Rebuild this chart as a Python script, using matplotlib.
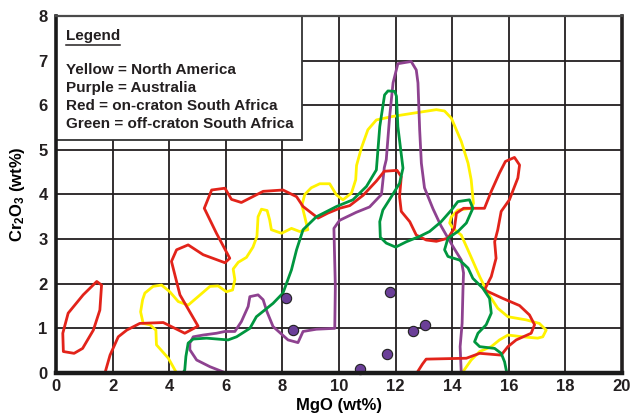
import matplotlib as mpl
import matplotlib.pyplot as plt
from matplotlib.patches import Rectangle

# MgO (x) / Cr2O3 (y) outlines, in wt%
RED_SMALL_X = [0.26, 0.64, 0.94, 1.32, 1.55, 1.61, 1.44, 0.96, 0.43, 0.24]
RED_SMALL_Y = [0.48, 0.44, 0.55, 0.96, 1.41, 1.97, 2.05, 1.75, 1.34, 0.89]

RED_X = [1.73, 1.91, 2.20, 2.50, 2.96, 3.79, 4.55, 5.02, 4.38, 4.08, 4.26, 4.67,
         5.20, 5.97, 6.14, 5.67, 5.24, 5.50, 5.97, 6.20, 6.55, 7.32, 8.02, 8.50,
         8.73, 9.26, 9.60, 10.02, 10.38, 10.85, 11.32, 11.60, 12.05, 12.20, 12.14,
         12.20, 12.50, 12.73, 13.08, 13.44, 13.85, 14.08, 14.15, 14.40, 15.14,
         15.38, 15.67, 15.88, 16.20, 16.38, 16.32, 16.02, 15.73, 15.61, 15.50,
         15.55, 15.38, 15.14, 15.79, 16.38, 16.73, 16.91, 16.79, 16.26, 15.97,
         15.73, 14.97, 14.50, 13.08, 12.95, 12.75]
RED_Y = [0.00, 0.40, 0.81, 0.96, 1.11, 1.13, 0.89, 1.05, 1.75, 2.50, 2.76, 2.87,
         2.65, 2.47, 2.57, 3.13, 3.69, 4.10, 4.14, 3.89, 3.82, 4.07, 4.10, 3.95,
         3.73, 3.47, 3.58, 3.69, 3.75, 3.98, 4.30, 4.52, 4.54, 4.40, 3.95,
         3.62, 3.39, 3.09, 2.98, 2.95, 3.02, 3.25, 3.58, 3.69, 3.69,
         4.07, 4.48, 4.74, 4.83, 4.66, 4.37, 3.88, 3.62, 3.21, 2.94,
         2.57, 2.16, 1.86, 1.67, 1.51, 1.30, 1.08, 0.89, 0.74, 0.59,
         0.40, 0.44, 0.33, 0.31, 0.20, 0.00]

YELLOW_X = [4.26, 3.97, 3.55, 3.53, 3.32, 3.08, 2.99, 3.06, 3.14, 3.43, 3.73, 4.02,
            4.32, 4.67, 5.02, 5.44, 5.73, 6.02, 6.24, 6.32, 6.26, 6.44, 6.73, 6.96,
            7.10, 7.14, 7.26, 7.46, 7.55, 7.61, 7.97, 8.32, 8.61, 8.90, 8.79, 8.69,
            8.79, 9.02, 9.32, 9.67, 9.91, 10.14, 10.44, 10.59, 10.62, 10.79, 11.02,
            11.32, 11.91, 12.61, 13.44, 13.73, 13.97, 14.32, 14.56, 14.67, 14.75,
            14.67, 14.20, 13.97, 13.91, 14.03, 14.32, 14.61, 14.97, 15.26, 15.61,
            15.97, 16.61, 17.08, 17.32, 17.20, 17.02, 16.49, 15.97, 15.67, 15.38,
            14.97, 14.67, 14.35]
YELLOW_Y = [0.00, 0.33, 0.63, 0.96, 1.08, 1.11, 1.37, 1.64, 1.79, 1.94, 1.97, 1.82,
            1.60, 1.52, 1.71, 1.94, 1.95, 1.82, 1.86, 2.09, 2.33, 2.48, 2.59, 2.82,
            3.06, 3.50, 3.67, 3.64, 3.43, 3.21, 3.13, 3.24, 3.17, 3.21, 3.50, 3.76,
            4.00, 4.15, 4.24, 4.24, 3.99, 3.88, 4.03, 4.33, 4.65, 5.04, 5.45,
            5.67, 5.75, 5.82, 5.90, 5.87, 5.71, 5.19, 4.70, 4.33, 3.80,
            3.69, 3.65, 3.50, 3.36, 3.24, 3.09, 2.68, 2.16, 1.79, 1.45,
            1.26, 1.19, 1.11, 0.96, 0.81, 0.78, 0.81, 0.85, 0.74, 0.59,
            0.48, 0.29, 0.00]

PURPLE_X = [6.00, 5.44, 4.97, 4.73, 4.73, 4.85, 5.20, 5.67, 5.97, 6.32, 6.55, 6.79,
            6.85, 7.14, 7.32, 7.45, 7.67, 8.20, 8.55, 8.73, 9.20, 9.85, 9.87, 9.82,
            10.02, 10.61, 11.08, 11.50, 11.55, 11.60, 11.67, 11.79, 11.91, 12.08,
            12.55, 12.73, 12.79, 12.85, 12.91, 13.02, 13.32, 13.60, 13.79, 14.03,
            14.32, 14.40, 14.38, 14.35, 14.28, 14.32]
PURPLE_Y = [0.00, 0.14, 0.29, 0.52, 0.67, 0.81, 0.85, 0.89, 0.93, 0.93, 1.15, 1.49,
            1.71, 1.75, 1.64, 1.38, 1.04, 0.74, 0.68, 0.93, 0.98, 1.00, 1.94, 3.24,
            3.42, 3.60, 3.72, 4.00, 4.30, 4.60, 4.78, 5.75, 6.50, 6.93,
            6.98, 6.79, 6.50, 5.45, 4.70, 4.15, 3.68, 3.30, 3.09, 2.83,
            2.53, 2.24, 1.86, 1.11, 0.59, 0.00]

GREEN_X = [4.49, 4.55, 4.59, 4.67, 4.85, 5.32, 6.08, 6.38, 6.85, 7.08, 7.67, 8.02,
           8.32, 8.50, 8.73, 9.20, 9.91, 10.49, 10.97, 11.32, 11.44, 11.61, 11.73,
           11.97, 12.03, 12.08, 12.26, 12.14, 11.85, 11.55, 11.44, 11.46, 11.67,
           12.00, 12.38, 12.85, 13.20, 13.61, 13.97, 14.20, 14.61, 14.73, 14.50,
           14.20, 13.85, 13.73, 13.85, 14.26, 14.56, 14.73, 15.08, 15.32, 15.38,
           15.20, 14.91, 14.79, 14.97, 15.50, 15.73, 15.85, 15.93]
GREEN_Y = [0.00, 0.07, 0.37, 0.67, 0.76, 0.78, 0.74, 0.81, 1.00, 1.26, 1.56, 1.79,
           2.31, 2.76, 3.21, 3.50, 3.73, 3.88, 4.18, 4.55, 5.52, 6.23, 6.32,
           6.31, 6.20, 5.52, 4.59, 4.25, 3.95, 3.65, 3.39, 3.04, 2.91,
           2.82, 2.94, 3.06, 3.17, 3.39, 3.65, 3.84, 3.88, 3.69, 3.36,
           3.17, 3.02, 2.76, 2.61, 2.53, 2.35, 2.12, 1.90, 1.67, 1.34,
           1.08, 0.89, 0.70, 0.59, 0.55, 0.44, 0.25, 0.00]

DOT_X = [8.13, 8.38, 10.75, 11.70, 11.80, 12.61, 13.03]
DOT_Y = [1.67, 0.97, 0.08, 0.42, 1.82, 0.95, 1.08]

X_TICKS = list(range(0, 21, 2))
Y_TICKS = list(range(0, 9))

LEGEND_TITLE = "Legend"
LEGEND_LINES = [
    "Yellow = North America",
    "Purple = Australia",
    "Red = on-craton South Africa",
    "Green = off-craton South Africa",
]

COLORS = {
    "red": "#E2231A",
    "yellow": "#FFF200",
    "purple": "#8E4290",
    "green": "#00963F",
    "dot": "#6B3F98",
    "grid": "#231F20",
    "text": "#231F20",
}


def apply_style():
    mpl.rcParams.update({
        "font.family": ["Liberation Sans", "DejaVu Sans"],
        "font.weight": "bold",
        "font.size": 12,
        "mathtext.default": "regular",
        "text.color": COLORS["text"],
        "xtick.color": COLORS["text"],
        "ytick.color": COLORS["text"],
    })


def main():
    apply_style()
    fig = plt.figure(figsize=(6.32, 4.2), dpi=100)
    ax = fig.add_axes([0.0886, 0.112, 0.8956, 0.850])

    ax.set_xlim(0, 20)
    ax.set_ylim(0, 8)
    ax.set_xticks(X_TICKS)
    ax.set_yticks(Y_TICKS)
    ax.tick_params(length=0, labelsize=12)
    ax.tick_params(axis="x", pad=4)
    ax.tick_params(axis="y", pad=6)
    for lab in ax.get_xticklabels() + ax.get_yticklabels():
        lab.set_fontweight("bold")
    ax.grid(True, color=COLORS["grid"], linewidth=1.3)
    ax.set_axisbelow(True)

    for side, lw, col in [("left", 2.6, "#1a1a1a"), ("bottom", 3.2, "#1a1a1a"),
                          ("right", 2.6, "#231F20"), ("top", 1.6, "#4a4a4a")]:
        ax.spines[side].set_linewidth(lw)
        ax.spines[side].set_color(col)
        ax.spines[side].set_zorder(10)

    # legend box
    ax.add_patch(Rectangle((0, 5.22), 8.68, 2.78, facecolor="white",
                           edgecolor="#333333", linewidth=1.3, zorder=2))
    ax.text(0.35, 7.56, LEGEND_TITLE, fontsize=11, fontweight="bold",
            va="center", ha="left", zorder=3)
    ax.plot([0.35, 2.27], [7.35, 7.35], color=COLORS["text"], lw=1.1, zorder=3)
    for i, line in enumerate(LEGEND_LINES):
        ax.text(0.35, 6.79 - i * 0.40, line, fontsize=11, fontweight="bold",
                va="center", ha="left", zorder=3)

    shapes = [
        (YELLOW_X, YELLOW_Y, "yellow"),
        (PURPLE_X, PURPLE_Y, "purple"),
        (RED_SMALL_X, RED_SMALL_Y, "red"),
        (RED_X, RED_Y, "red"),
        (GREEN_X, GREEN_Y, "green"),
    ]
    for xs, ys, c in shapes:
        ax.fill(xs, ys, facecolor="none", edgecolor=COLORS[c], linewidth=2.0,
                joinstyle="round", zorder=4)

    ax.scatter(DOT_X, DOT_Y, s=55, color=COLORS["dot"], edgecolor="#222222",
               linewidth=0.8, zorder=6, clip_on=False)

    ax.set_xlabel("MgO (wt%)", fontsize=12, fontweight="bold", labelpad=3)
    ax.set_ylabel("Cr$_2$O$_3$ (wt%)", fontsize=12, fontweight="bold", labelpad=8)

    fig.savefig("out.png", dpi=100)
    plt.close(fig)


if __name__ == "__main__":
    main()
